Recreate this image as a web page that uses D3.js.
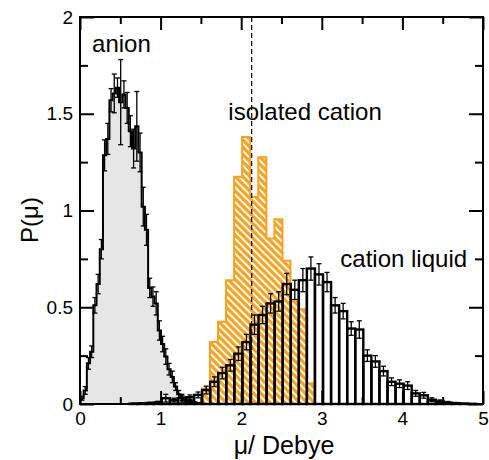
<!DOCTYPE html>
<html>
<head>
<meta charset="utf-8">
<script src="https://cdn.jsdelivr.net/npm/d3@7"></script>
<style>
  body { margin: 0; background: #fff; }
  text { font-family: "Liberation Sans", Arial, Helvetica, sans-serif; fill: #000; }
</style>
</head>
<body>
<svg width="489" height="460"></svg>
<script>
// anion histogram, bins of 0.04 Debye
let anionStart = 0.005, anionWidth = 0.04;
let anionP = [0.03, 0.07, 0.21, 0.27, 0.51, 0.62, 0.80, 1.285, 1.37, 1.57, 1.605, 1.635, 1.56, 1.60, 1.53, 1.41,
    1.32, 1.435, 1.30, 1.02, 0.90, 0.60, 0.555, 0.52, 0.38, 0.31, 0.245, 0.18, 0.14, 0.09, 0.05, 0.03,
    0.02, 0.015, 0.01, 0.006, 0.003];
let anionErr = [0.01, 0.02, 0.03, 0.03, 0.04, 0.05, 0.05, 0.08, 0.08, 0.06, 0.10, 0.05, 0.22, 0.07, 0.08, 0.08,
    0.10, 0.18, 0.10, 0.10, 0.08, 0.05, 0.05, 0.06, 0.05, 0.04, 0.04, 0.03, 0.03, 0.02, 0.02, 0.02,
    0.015, 0.01, 0.008, 0.005, 0.003];

// cation in the liquid, bins of 0.1 Debye
let liqStart = 0.615, liqWidth = 0.1;
let liqP = [0.002, 0.003, 0.005, 0.008,
    0.03, 0.02, 0.03, 0.035, 0.047, 0.072, 0.115, 0.16, 0.20, 0.26,
    0.32, 0.41, 0.46, 0.52, 0.53, 0.62, 0.59, 0.64, 0.70, 0.67,
    0.63, 0.51, 0.48, 0.39, 0.385, 0.25, 0.22, 0.17, 0.115, 0.105,
    0.095, 0.055, 0.045, 0.022, 0.013, 0.007, 0.004, 0.002, 0.001];
let liqErr = [0.002, 0.003, 0.004, 0.006,
    0.02, 0.01, 0.012, 0.012, 0.015, 0.02, 0.025, 0.03, 0.03, 0.035,
    0.04, 0.05, 0.045, 0.05, 0.05, 0.055, 0.05, 0.06, 0.06, 0.055,
    0.05, 0.04, 0.04, 0.035, 0.045, 0.03, 0.03, 0.025, 0.02, 0.02,
    0.02, 0.015, 0.015, 0.01, 0.008, 0.006, 0.004, 0.002, 0.001];

// isolated cation, bins of 0.1 Debye
let isoStart = 1.512, isoWidth = 0.1;
let isoP = [0.08, 0.32, 0.425, 0.64, 1.175, 1.38, 1.07, 1.275, 0.855, 0.955, 0.74, 0.53, 0.49, 0.107];

let dashedMu = 2.13;
let xTicks = [0, 1, 2, 3, 4, 5];
let xTickLabels = ["0", "1", "2", "3", "4", "5"];
let xMinor = [0.5, 1.5, 2.5, 3.5, 4.5];
let yTicks = [0, 0.5, 1, 1.5, 2];
let yTickLabels = ["0", "0.5", "1", "1.5", "2"];
let yMinor = [0.25, 0.75, 1.25, 1.75];

let labels = [
    { text: "anion", mu: 0.15, p: 1.82 },
    { text: "isolated cation", mu: 1.84, p: 1.47 },
    { text: "cation liquid", mu: 3.23, p: 0.71 }
];

let svg = d3.select("svg");
let pl = 80, pr = 483, pt = 17, pb = 404;

let x = d3.scaleLinear().domain([0, 5]).range([pl, pr]);
let y = d3.scaleLinear().domain([0, 2]).range([pb, pt]);

let orange = "#f7a21e";

// hatch for the isolated cation
let defs = svg.append("defs");
let pat = defs.append("pattern")
    .attr("id", "hatch")
    .attr("patternUnits", "userSpaceOnUse")
    .attr("width", 5.2).attr("height", 5.2)
    .attr("patternTransform", "rotate(-45)");
pat.append("rect").attr("width", 5.2).attr("height", 5.2).attr("fill", orange);
pat.append("line").attr("x1", 2.6).attr("y1", 0).attr("x2", 2.6).attr("y2", 5.2)
    .attr("stroke", "#fff").attr("stroke-width", 2);

// step outline: (start,0) -> steps -> (end,0)
function stepPts(start, w, vals) {
    let pts = [[start, 0]];
    vals.forEach((v, i) => pts.push([start + i * w, v]));
    let end = start + vals.length * w;
    pts.push([end, vals[vals.length - 1]]);
    pts.push([end, 0]);
    return pts;
}

let stepLine = d3.line()
    .x(d => x(d[0]))
    .y(d => y(d[1]))
    .curve(d3.curveStepAfter);

// isolated cation
svg.append("path")
    .attr("d", stepLine(stepPts(isoStart, isoWidth, isoP)))
    .attr("fill", "url(#hatch)")
    .attr("stroke", orange)
    .attr("stroke-width", 2);

// anion
svg.append("path")
    .attr("d", stepLine(stepPts(anionStart, anionWidth, anionP)))
    .attr("fill", "#e6e6e6")
    .attr("stroke", "#000")
    .attr("stroke-width", 2)
    .attr("stroke-linejoin", "miter");

// cation liquid bars
svg.append("g").selectAll("rect")
    .data(liqP)
    .join("rect")
    .attr("x", (d, i) => x(liqStart + i * liqWidth))
    .attr("y", d => y(d))
    .attr("width", x(liqWidth) - x(0))
    .attr("height", d => y(0) - y(d))
    .attr("fill", "none")
    .attr("stroke", "#000")
    .attr("stroke-width", 2.4);

// error bars
function errorBars(start, w, vals, errs, sw) {
    let g = svg.append("g").attr("stroke", "#000").attr("stroke-width", sw);
    vals.forEach((v, i) => {
        let cx = x(start + (i + 0.5) * w);
        let y1 = y(Math.max(0, v - errs[i])), y2 = y(v + errs[i]);
        g.append("line").attr("x1", cx).attr("x2", cx).attr("y1", y1).attr("y2", y2);
        g.append("line").attr("x1", cx - 2.5).attr("x2", cx + 2.5).attr("y1", y1).attr("y2", y1);
        g.append("line").attr("x1", cx - 2.5).attr("x2", cx + 2.5).attr("y1", y2).attr("y2", y2);
    });
}
errorBars(anionStart, anionWidth, anionP, anionErr, 1.3);
errorBars(liqStart, liqWidth, liqP, liqErr, 1.3);

// dashed line
svg.append("line")
    .attr("x1", x(dashedMu)).attr("x2", x(dashedMu))
    .attr("y1", pt).attr("y2", pb)
    .attr("stroke", "#000")
    .attr("stroke-width", 1.2)
    .attr("stroke-dasharray", "5,3");

// axes, ticks pointing inward on all four sides
function styleAxis(g) {
    g.select(".domain").remove();
    g.selectAll("line").attr("stroke", "#000").attr("stroke-width", 2);
    g.selectAll("text").style("font-size", "19px").attr("fill", "#000");
}

svg.append("g").attr("transform", "translate(0," + pb + ")")
    .call(d3.axisBottom(x).tickValues(xTicks).tickSize(-13).tickPadding(8)
        .tickFormat((d, i) => xTickLabels[i]))
    .call(styleAxis);
svg.append("g").attr("transform", "translate(0," + pb + ")")
    .call(d3.axisBottom(x).tickValues(xMinor).tickSize(-7).tickFormat(""))
    .call(styleAxis);
svg.append("g").attr("transform", "translate(0," + pt + ")")
    .call(d3.axisTop(x).tickValues(xTicks).tickSize(-13).tickFormat(""))
    .call(styleAxis);
svg.append("g").attr("transform", "translate(0," + pt + ")")
    .call(d3.axisTop(x).tickValues(xMinor).tickSize(-7).tickFormat(""))
    .call(styleAxis);

svg.append("g").attr("transform", "translate(" + pl + ",0)")
    .call(d3.axisLeft(y).tickValues(yTicks).tickSize(-14).tickPadding(7)
        .tickFormat((d, i) => yTickLabels[i]))
    .call(styleAxis);
svg.append("g").attr("transform", "translate(" + pl + ",0)")
    .call(d3.axisLeft(y).tickValues(yMinor).tickSize(-8).tickFormat(""))
    .call(styleAxis);
svg.append("g").attr("transform", "translate(" + pr + ",0)")
    .call(d3.axisRight(y).tickValues(yTicks).tickSize(-14).tickFormat(""))
    .call(styleAxis);
svg.append("g").attr("transform", "translate(" + pr + ",0)")
    .call(d3.axisRight(y).tickValues(yMinor).tickSize(-8).tickFormat(""))
    .call(styleAxis);

// frame
svg.append("rect")
    .attr("x", pl).attr("y", pt)
    .attr("width", pr - pl).attr("height", pb - pt)
    .attr("fill", "none")
    .attr("stroke", "#000")
    .attr("stroke-width", 2);

// annotations
svg.append("g").selectAll("text")
    .data(labels)
    .join("text")
    .attr("x", d => x(d.mu))
    .attr("y", d => y(d.p))
    .style("font-size", "24px")
    .text(d => d.text);

// axis titles
svg.append("text")
    .attr("x", 284).attr("y", 454)
    .attr("text-anchor", "middle")
    .style("font-size", "25px")
    .text("μ/ Debye");

svg.append("text")
    .attr("transform", "translate(38,220) rotate(-90)")
    .attr("text-anchor", "middle")
    .style("font-size", "24px")
    .text("P(μ)");
</script>
</body>
</html>
